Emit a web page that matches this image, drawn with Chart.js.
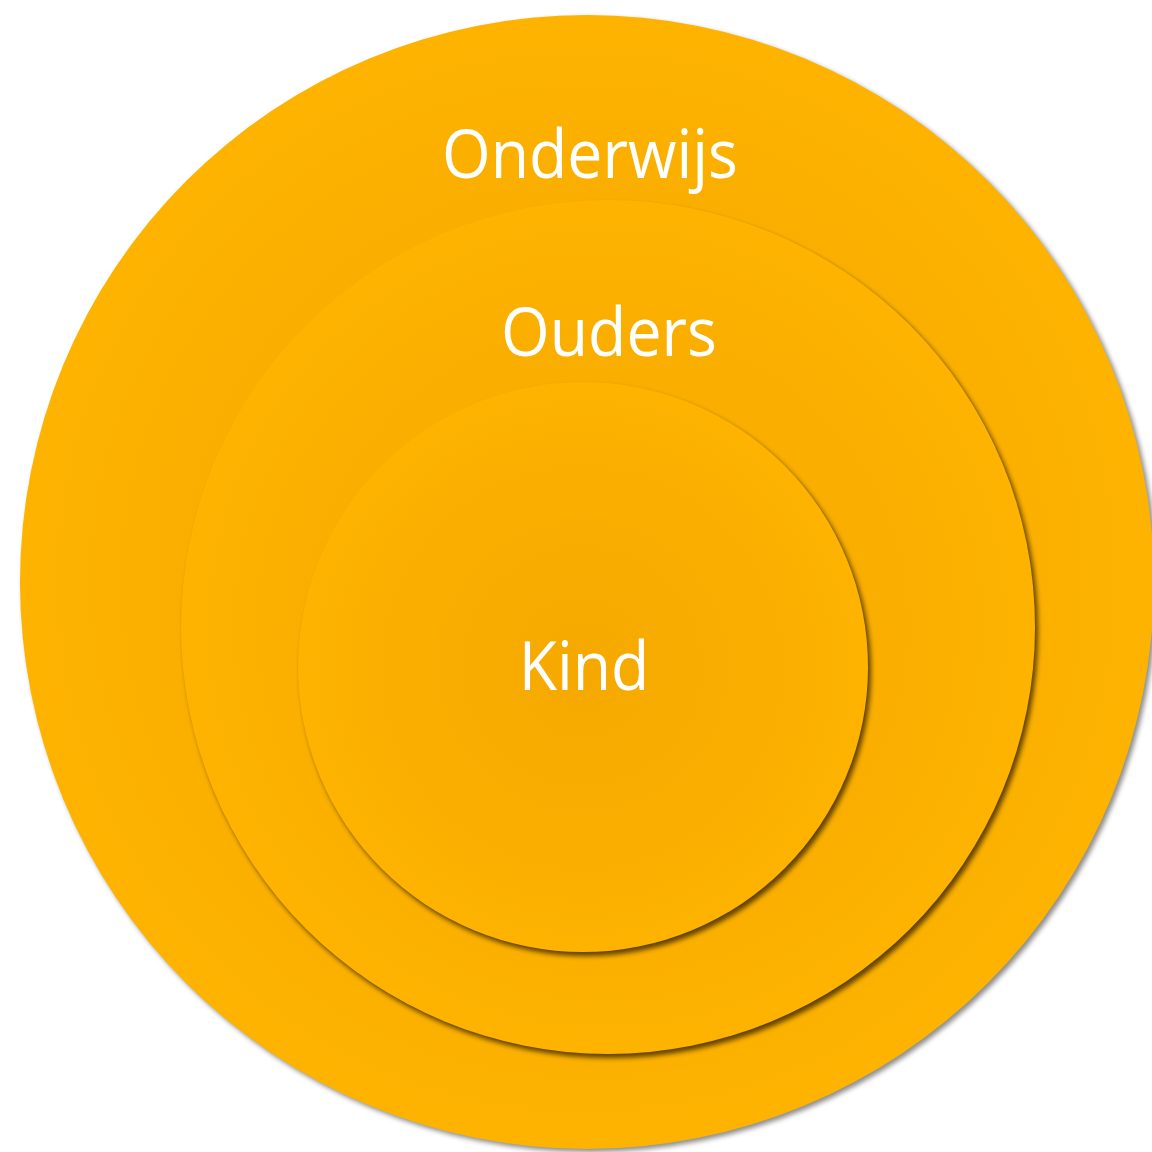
<!DOCTYPE html>
<html>
<head>
<meta charset="utf-8">
<script src="https://cdn.jsdelivr.net/npm/chart.js@4.4.1/dist/chart.umd.min.js"></script>
<style>
html,body{margin:0;padding:0;background:#ffffff;}
#wrap{width:1152px;height:1152px;}
</style>
</head>
<body>
<div id="wrap"><canvas id="c" width="1152" height="1152"></canvas></div>
<script>
// Circle data (drawn outer first, inner last)
const circleLabels = ['Onderwijs', 'Ouders', 'Kind'];
const circleX = [587, 608, 583];
const circleY = [582, 627, 667];
const circleR = [567, 427, 285];
// Label anchor positions (baseline centre), in the same units
const labelX = [590, 609, 584];
const labelY = [178, 356, 690];

const shadowStyles = [
  {color: 'rgba(0,0,0,0.45)', blur: 5, ox: 3, oy: 3},
  {color: 'rgba(70,45,0,0.85)', blur: 5, ox: 3, oy: 4},
  {color: 'rgba(70,45,0,0.85)', blur: 5, ox: 3, oy: 4}
];

function gradientFor(ctx) {
  const chart = ctx.chart;
  const xs = chart.scales.x, ys = chart.scales.y;
  const i = ctx.datasetIndex;
  if (!xs || !ys || i === undefined) return '#FBB000';
  const idx = 2 - i; // dataset 0 = Kind (on top)
  const px = xs.getPixelForValue(circleX[idx]);
  const py = ys.getPixelForValue(circleY[idx]);
  const r = circleR[idx];
  if (!isFinite(px) || !isFinite(py)) return '#FBB000';
  const g = chart.ctx.createRadialGradient(px, py, 0, px, py, r);
  g.addColorStop(0, '#F5A900');
  g.addColorStop(0.7, '#FAAF00');
  g.addColorStop(1, '#FDB300');
  return g;
}

// Datasets: index 0 drawn last (on top)
const datasets = [2, 1, 0].map(idx => ({
  label: circleLabels[idx],
  data: [{x: circleX[idx], y: circleY[idx], r: circleR[idx]}],
  backgroundColor: gradientFor,
  borderWidth: 0,
  hoverRadius: 0,
  clip: false,
  _shadow: shadowStyles[idx]
}));

const shadowPlugin = {
  id: 'shadow',
  beforeDatasetDraw(chart, args) {
    const s = chart.data.datasets[args.index]._shadow;
    const c = chart.ctx;
    c.save();
    c.shadowColor = s.color;
    c.shadowBlur = s.blur;
    c.shadowOffsetX = s.ox;
    c.shadowOffsetY = s.oy;
  },
  afterDatasetDraw(chart) {
    chart.ctx.restore();
  }
};

const labelPlugin = {
  id: 'labels',
  afterDatasetsDraw(chart) {
    const c = chart.ctx;
    const xs = chart.scales.x, ys = chart.scales.y;
    c.save();
    c.fillStyle = '#ffffff';
    c.font = '400 68px "Open Sans", "Noto Sans", sans-serif';
    c.textAlign = 'center';
    c.textBaseline = 'alphabetic';
    circleLabels.forEach((t, i) => {
      const px = xs.getPixelForValue(labelX[i]);
      const py = ys.getPixelForValue(labelY[i]);
      c.save();
      c.translate(px, py);
      c.scale(0.92, 1);
      c.fillText(t, 0, 0);
      c.restore();
    });
    c.restore();
  }
};

new Chart(document.getElementById('c'), {
  type: 'bubble',
  data: {datasets},
  options: {
    responsive: false,
    animation: false,
    events: [],
    layout: {padding: 0, autoPadding: false},
    plugins: {legend: {display: false}, tooltip: {enabled: false}},
    scales: {
      x: {type: 'linear', min: 0, max: 1152, display: false},
      y: {type: 'linear', min: 0, max: 1152, reverse: true, display: false}
    }
  },
  plugins: [shadowPlugin, labelPlugin]
});
</script>
</body>
</html>
